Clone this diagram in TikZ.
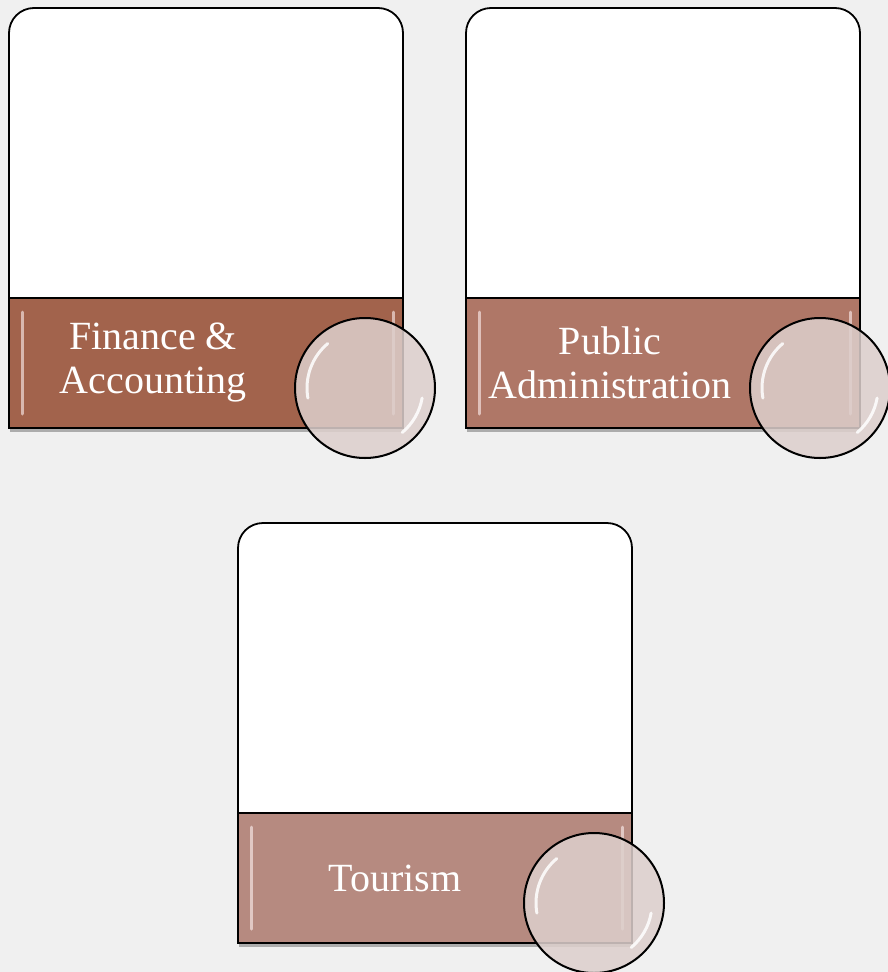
\documentclass[tikz,border=0pt]{standalone}
\usepackage{fontspec}
\setmainfont{Liberation Serif}
\usetikzlibrary{shadows}

\definecolor{paper}{HTML}{F0F0F0}
\definecolor{rustA}{HTML}{A2634C}
\definecolor{rustB}{HTML}{AF7767}
\definecolor{rustC}{HTML}{B68A80}
\definecolor{lensfill}{HTML}{DDCFCC}

\begin{document}
\begin{tikzpicture}[x=1pt, y=-1pt,
                    every node/.style={inner sep=0pt, outer sep=0pt},
                    card/.style={draw=black, fill=white, line width=1.8pt, rounded corners=25pt},
                    band/.style={rectangle, draw=black, line width=1.8pt, minimum width=394pt, minimum height=130pt,
                                 drop shadow={shadow xshift=1pt, shadow yshift=-4pt, opacity=0.6}},
                    bevel/.style={white!80!pink, opacity=0.6, line width=3pt, line cap=round},
                    lens/.style={circle, draw=black, line width=2pt, fill=lensfill, fill opacity=0.86, minimum size=140pt},
                    shine/.style={white, opacity=0.85, line width=3pt, line cap=round},
                    bandtext/.style={text=white, font=\fontsize{40}{44}\selectfont, align=center}]

    % Background
    \fill[paper] (0,0) rectangle (888,972);
    \useasboundingbox (0,0) rectangle (888,972);

    % Define cards (white tops)
    \draw[card] (9,298) -- (9,8) -- (403,8) -- (403,298); % Card 1
    \draw[card] (466,298) -- (466,8) -- (860,8) -- (860,298); % Card 2
    \draw[card] (238,813) -- (238,523) -- (632,523) -- (632,813); % Card 3

    % Define bands
    \node[band, fill=rustA] (b1) at (206,363) {}; % Band of card 1
    \node[band, fill=rustB] (b2) at (663,363) {}; % Band of card 2
    \node[band, fill=rustC] (b3) at (435,878) {}; % Band of card 3

    % Bevel lights on the bands
    \foreach \b in {b1,b2,b3} {
        \draw[bevel] ([shift={(13,14)}]\b.north west) -- ([shift={(13,-14)}]\b.south west);
        \draw[bevel] ([shift={(-10,14)}]\b.north east) -- ([shift={(-10,-14)}]\b.south east);
    }

    % Define labels
    \node[bandtext] (t1) at (153,363) {Finance \&\\Accounting}; % Label of band 1
    \node[bandtext] (t2) at (610,363) {Public\\Administration}; % Label of band 2
    \node[bandtext] (t3) at (395,878) {Tourism}; % Label of band 3

    % Define lenses
    \node[lens] (l1) at (365,388) {}; % Lens of card 1
    \node[lens] (l2) at (820,388) {}; % Lens of card 2
    \node[lens] (l3) at (594,903) {}; % Lens of card 3

    % Shine on the lenses
    \foreach \l in {l1,l2,l3} {
        \draw[shine] (\l.center) ++(170:58) arc[start angle=170, end angle=230, radius=58];
        \draw[shine] (\l.center) ++(10:58) arc[start angle=10, end angle=50, radius=58];
    }
\end{tikzpicture}
\end{document}
